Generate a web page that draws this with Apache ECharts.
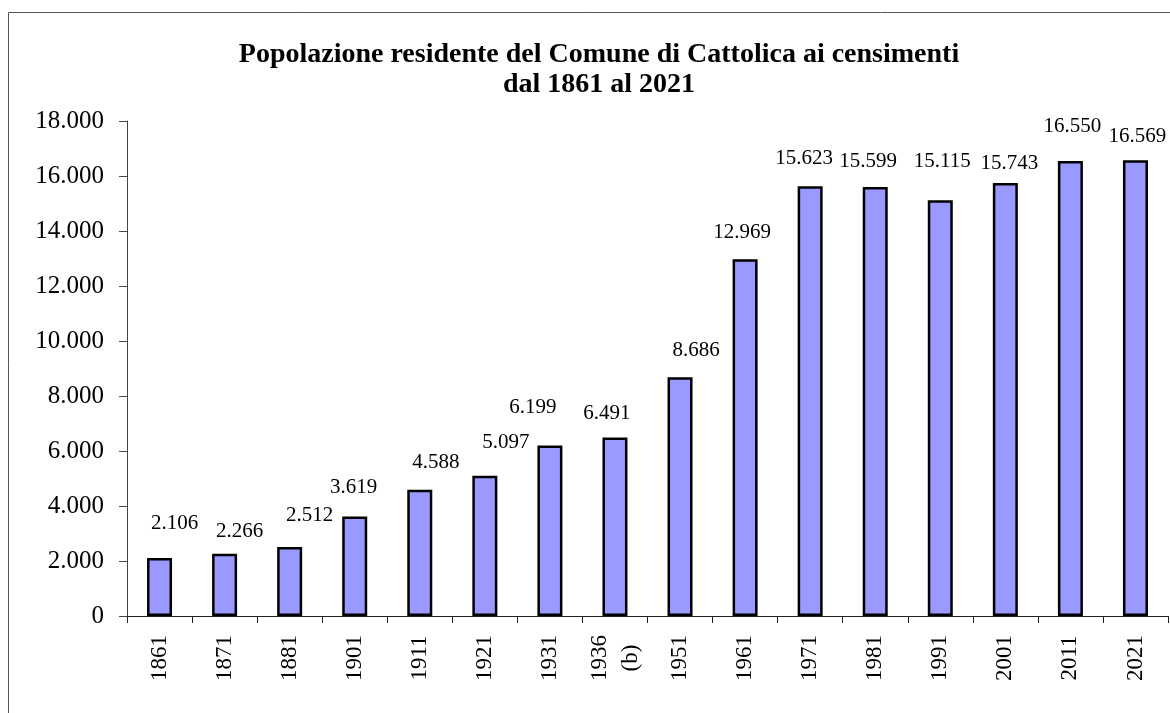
<!DOCTYPE html>
<html>
<head>
<meta charset="utf-8">
<title>Popolazione residente Cattolica</title>
<script src="https://cdn.jsdelivr.net/npm/echarts@6/dist/echarts.min.js"></script>
<style>
  html, body { margin: 0; padding: 0; background: #fff; overflow: hidden; }
  #chart { width: 1170px; height: 713px; }
</style>
</head>
<body>
<div id="chart"></div>
<script>
// dati censimenti
var anni = ['1861', '1871', '1881', '1901', '1911', '1921', '1931', '1936\n(b)', '1951', '1961', '1971', '1981', '1991', '2001', '2011', '2021']
var residenti = [2106, 2266, 2512, 3619, 4588, 5097, 6199, 6491, 8686, 12969, 15623, 15599, 15115, 15743, 16550, 16569]
var yTicks = [0, 2000, 4000, 6000, 8000, 10000, 12000, 14000, 16000, 18000]

// spostamenti manuali delle etichette (come nel grafico originale)
var labelOffsets = [[15, -19], [15, -7], [20, -16], [-1, -13], [16, -12], [21, -18], [-17, -23], [-8, -9],
  [16, -11], [-3, -11], [-6, -12], [-7, -10], [2, -23], [4, -4], [2, -19], [2, -8]]

var serif = "'Liberation Serif', 'Times New Roman', serif"

function fmt(v) {
  return String(v).replace(/\B(?=(\d{3})+(?!\d))/g, '.')
}

var chart = echarts.init(document.getElementById('chart'))

chart.setOption({
  animation: false,
  backgroundColor: '#fff',
  title: {
    text: 'Popolazione residente del Comune di Cattolica ai censimenti\ndal 1861 al 2021',
    left: 599,
    top: 40,
    padding: 0,
    textAlign: 'center',
    textStyle: {
      fontFamily: serif,
      fontWeight: 'bold',
      fontSize: 28,
      lineHeight: 30,
      color: '#000'
    }
  },
  graphic: [{
    type: 'rect',
    z: -10,
    shape: { x: 8.5, y: 12.5, width: 1400, height: 1000 },
    style: { fill: null, stroke: '#555', lineWidth: 1 }
  }],
  grid: {
    left: 127,
    right: 2,
    top: 121,
    bottom: 97,
    containLabel: false
  },
  xAxis: {
    type: 'category',
    data: anni,
    axisLine: { lineStyle: { color: '#222', width: 1 } },
    axisTick: { show: true, length: 7, interval: 0, lineStyle: { color: '#222' } },
    axisLabel: {
      interval: 0,
      rotate: 90,
      align: 'center',
      verticalAlign: 'middle',
      margin: 42,
      fontFamily: serif,
      fontSize: 23,
      lineHeight: 31,
      color: '#000'
    }
  },
  yAxis: {
    type: 'value',
    min: yTicks[0],
    max: yTicks[yTicks.length - 1],
    interval: 2000,
    splitLine: { show: false },
    axisLine: { show: true, lineStyle: { color: '#444', width: 1 } },
    axisTick: { show: true, length: 8, lineStyle: { color: '#444' } },
    axisLabel: {
      margin: 23,
      fontFamily: serif,
      fontSize: 25,
      color: '#000',
      formatter: fmt
    }
  },
  series: [{
    type: 'bar',
    barWidth: 25,
    data: residenti.map(function (v, i) {
      return { value: v, label: { offset: labelOffsets[i] } }
    }),
    itemStyle: {
      color: '#9999FF',
      borderColor: '#000',
      borderWidth: 2.5
    },
    label: {
      show: true,
      position: 'top',
      distance: 5,
      fontFamily: serif,
      fontSize: 21,
      color: '#000',
      formatter: function (p) { return fmt(p.value) }
    }
  }]
})
</script>
</body>
</html>
